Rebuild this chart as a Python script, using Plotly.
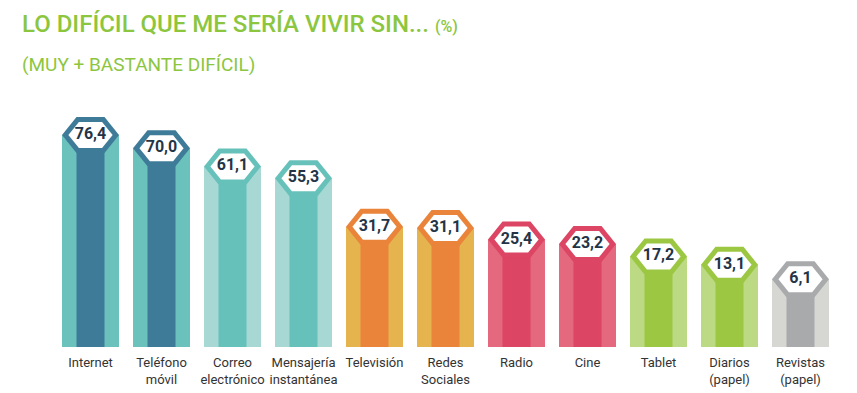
import plotly.graph_objects as go

# ---------------- data ----------------
categories = ["Internet", "Teléfono<br>móvil", "Correo<br>electrónico", "Mensajería<br>instantánea",
              "Televisión", "Redes<br>Sociales", "Radio", "Cine", "Tablet",
              "Diarios<br>(papel)", "Revistas<br>(papel)"]
values = [76.4, 70.0, 61.1, 55.3, 31.7, 31.1, 25.4, 23.2, 17.2, 13.1, 6.1]
value_labels = [f"{v:.1f}".replace(".", ",") for v in values]

side_colors = ["#6BC2BD", "#6BC2BD", "#A8D8D3", "#A8D8D3", "#E5B44F", "#E5B44F",
               "#E4697E", "#E4697E", "#BCD984", "#BCD984", "#D6D7D3"]
center_colors = ["#3E7B99", "#3E7B99", "#67C1BB", "#67C1BB", "#E9843A", "#E9843A",
                 "#DC4563", "#DC4563", "#9BC743", "#9BC743", "#A8AAAB"]

title_text = "LO DIFÍCIL QUE ME SERÍA VIVIR SIN... <span style='font-size:16px'>(%)</span>"
subtitle_text = "(MUY + BASTANTE DIFÍCIL)"

# ---------------- layout geometry ----------------
FIG_W, FIG_H = 857, 393
L, R, T, B = 47, 29, 100, 54
PLOT_W = FIG_W - L - R
PLOT_H = FIG_H - T - B
N = len(values)
PX_X = PLOT_W / N                  # px per category unit
BASE = -27.0                       # bars start below zero (pictogram base)
PX_Y = 2.05                        # px per percentage point
Y_TOP = BASE + PLOT_H / PX_Y

# hexagon sizes (px -> data units)
hw, fw, hh = 28.5 / PX_X, 14.0 / PX_X, 18.0 / PX_Y
ihw, ifw, ihh = 22.1 / PX_X, 11.6 / PX_X, 13.0 / PX_Y

xs = list(range(N))

def hexagon(cx, cy, a, f, h):
    return ([cx - a, cx - f, cx + f, cx + a, cx + f, cx - f, cx - a],
            [cy, cy + h, cy + h, cy, cy - h, cy - h, cy])

fig = go.Figure()

# prism sides (full width) and front face (centre)
fig.add_trace(go.Bar(x=xs, y=[v - BASE for v in values], base=BASE, width=2 * hw,
                     marker=dict(color=side_colors, line=dict(width=0)), hoverinfo="skip"))
fig.add_trace(go.Bar(x=xs, y=[v - BASE for v in values], base=BASE, width=2 * fw,
                     marker=dict(color=center_colors, line=dict(width=0)), hoverinfo="skip"))

# hexagon caps
for i, v in enumerate(values):
    hx, hy = hexagon(i, v, hw, fw, hh)
    fig.add_trace(go.Scatter(x=hx, y=hy, mode="lines", fill="toself",
                             fillcolor=center_colors[i], line=dict(width=0, color=center_colors[i]),
                             hoverinfo="skip"))
    ix, iy = hexagon(i, v, ihw, ifw, ihh)
    fig.add_trace(go.Scatter(x=ix, y=iy, mode="lines", fill="toself",
                             fillcolor="white", line=dict(width=0, color="white"),
                             hoverinfo="skip"))

fig.add_trace(go.Scatter(x=xs, y=values, mode="text", text=value_labels,
                         textposition="middle center",
                         textfont=dict(family="Roboto", size=16, color="#243447", weight="bold"),
                         hoverinfo="skip"))

def px_x(p):
    return (p - L) / PLOT_W

def px_y(p):
    return (FIG_H - B - p) / PLOT_H

fig.add_annotation(text=title_text, xref="paper", yref="paper", x=px_x(12), y=px_y(16),
                   xanchor="left", yanchor="middle", showarrow=False,
                   font=dict(family="Roboto", size=24, color="#8CC63F", weight=500))
fig.add_annotation(text=subtitle_text, xref="paper", yref="paper", x=px_x(12), y=px_y(57),
                   xanchor="left", yanchor="middle", showarrow=False,
                   font=dict(family="Roboto", size=19, color="#8CC63F"))

fig.update_layout(
    width=FIG_W, height=FIG_H,
    margin=dict(l=L, r=R, t=T, b=B, pad=0, autoexpand=False),
    barmode="overlay",
    showlegend=False,
    plot_bgcolor="white", paper_bgcolor="white",
    xaxis=dict(range=[-0.5, N - 0.5], tickmode="array", tickvals=xs, ticktext=categories,
               showgrid=False, zeroline=False, showline=False, ticks="",
               ticklabelstandoff=6, automargin=False,
               tickfont=dict(family="Roboto", size=13, color="#333333")),
    yaxis=dict(range=[BASE, Y_TOP], visible=False, fixedrange=True, automargin=False),
)

fig.write_html("out.html")
